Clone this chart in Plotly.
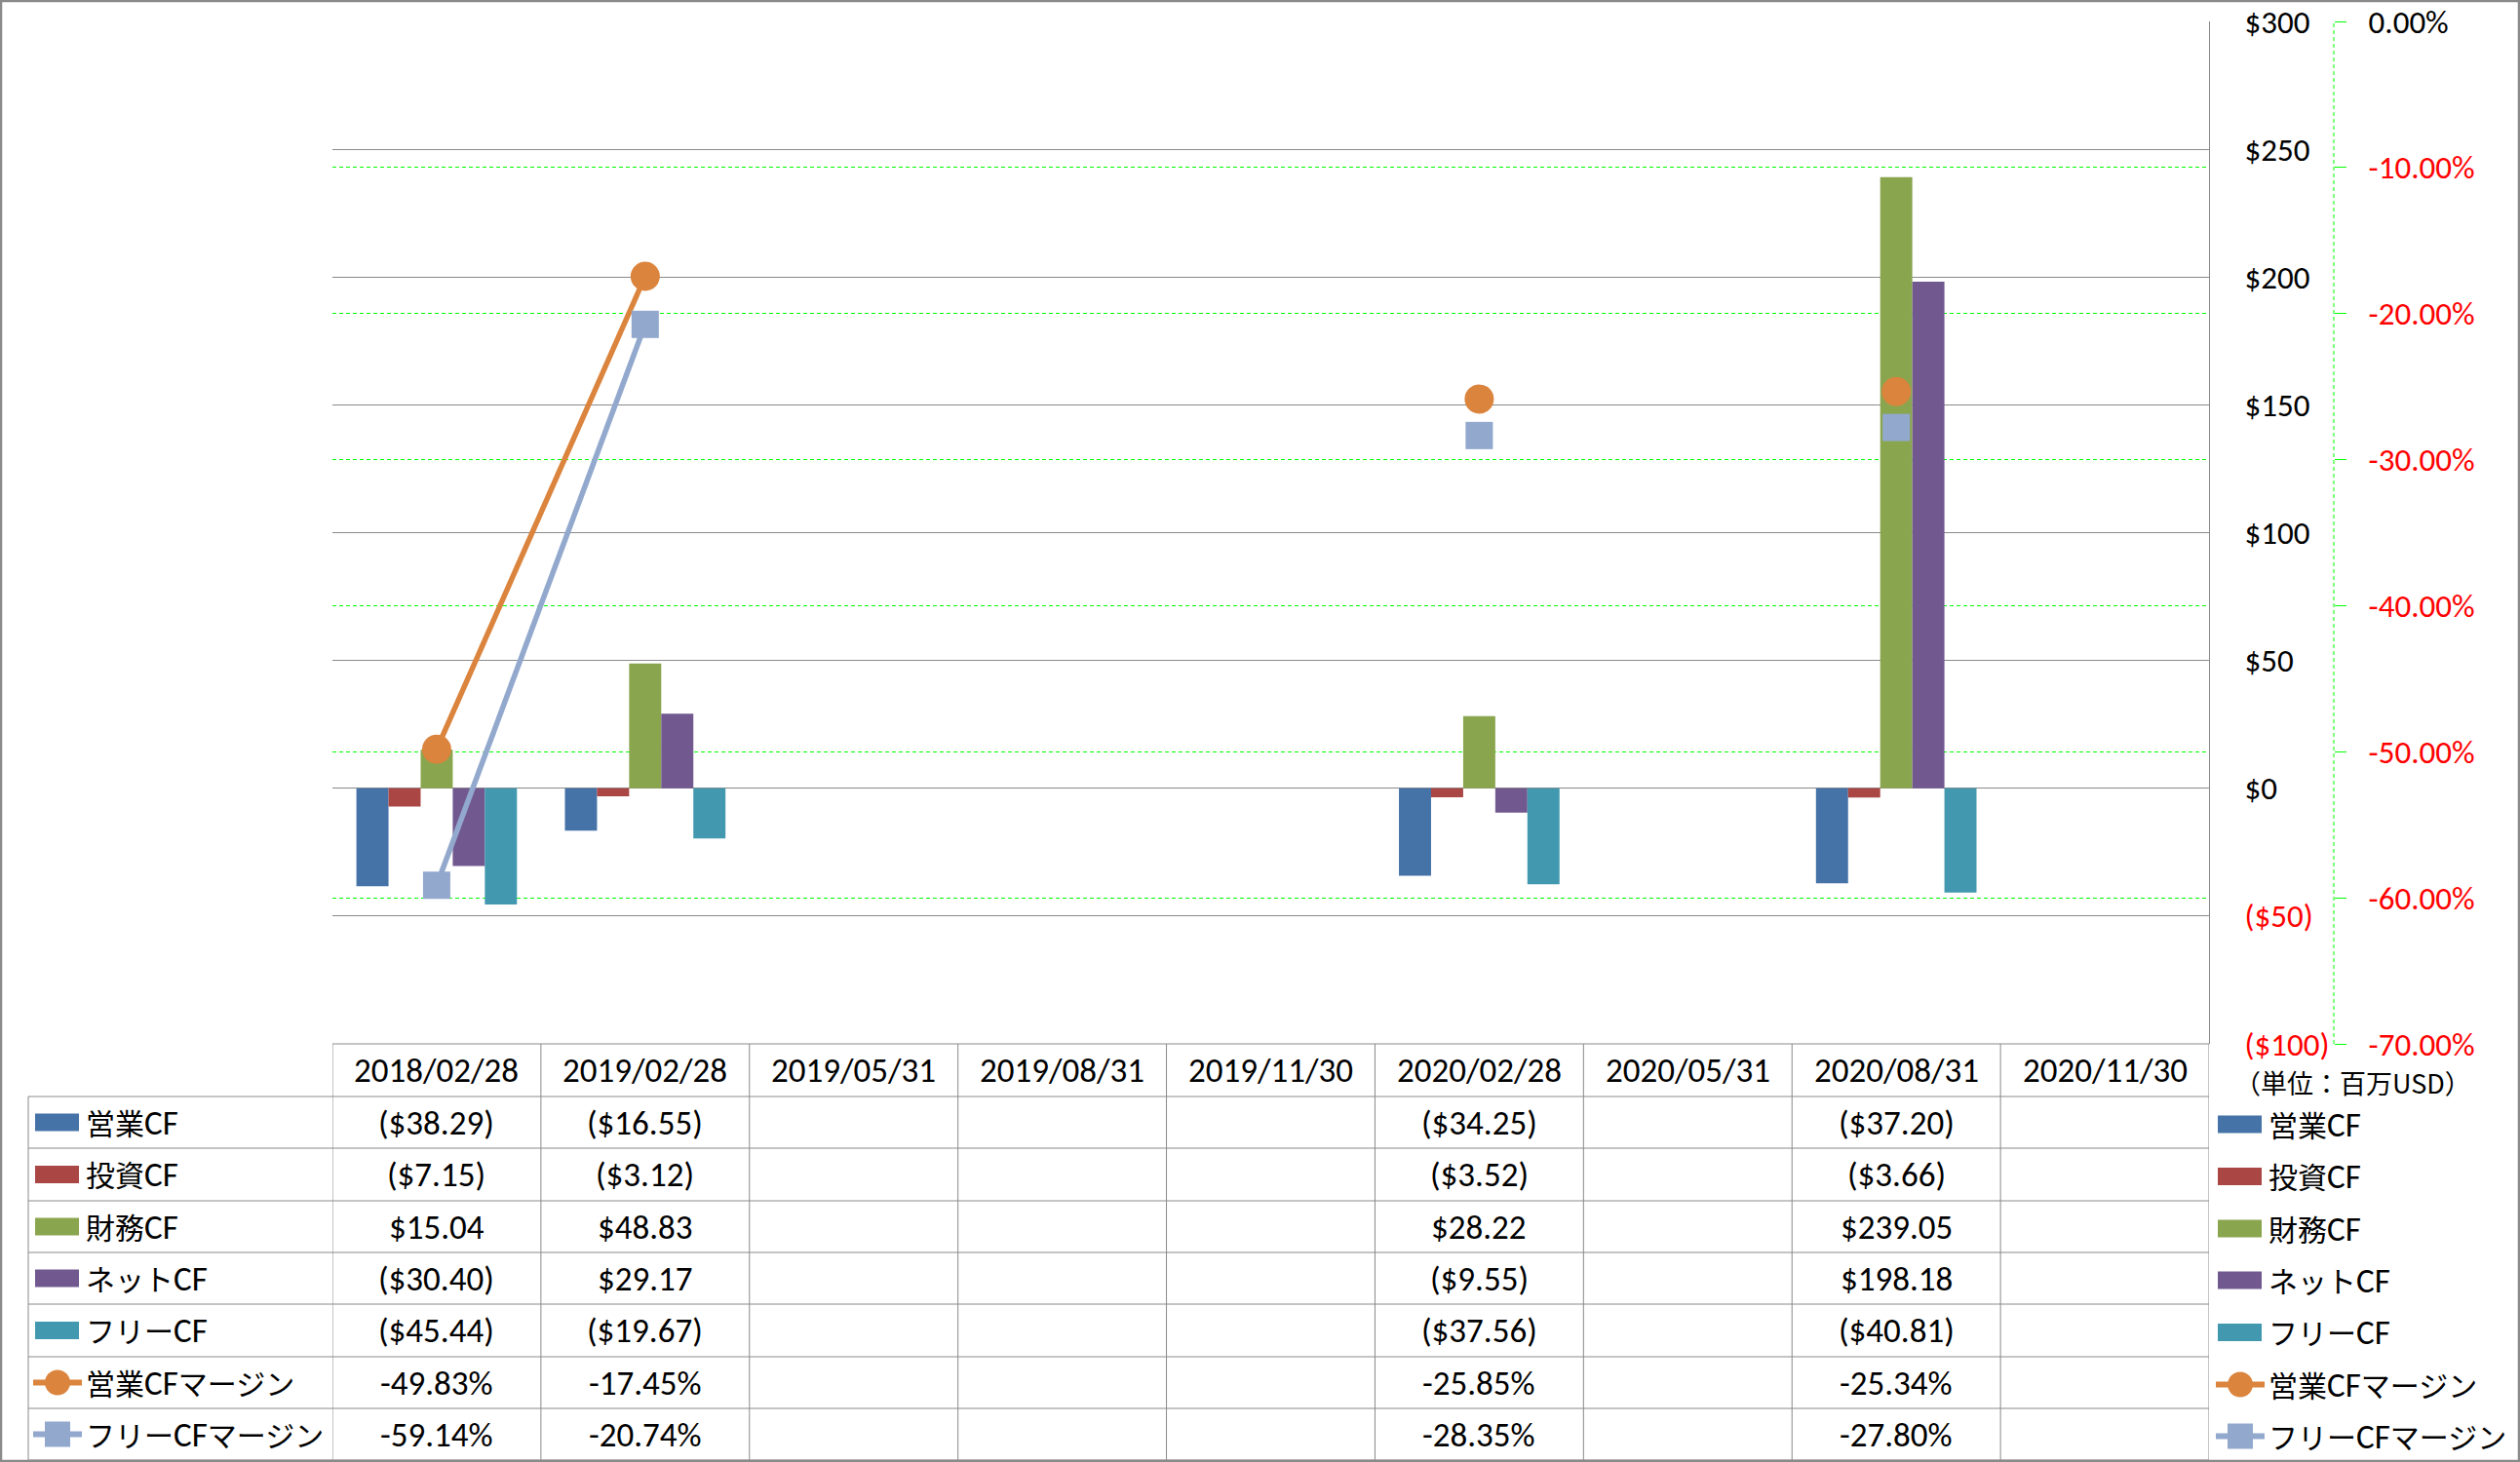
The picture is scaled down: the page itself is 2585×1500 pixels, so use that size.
import re
import plotly.graph_objects as go

W, H = 2585, 1500

# ---------------- data ----------------
categories = ["2018/02/28", "2019/02/28", "2019/05/31", "2019/08/31", "2019/11/30",
              "2020/02/28", "2020/05/31", "2020/08/31", "2020/11/30"]
operating_cf = [-38.29, -16.55, None, None, None, -34.25, None, -37.20, None]
investing_cf = [-7.15, -3.12, None, None, None, -3.52, None, -3.66, None]
financing_cf = [15.04, 48.83, None, None, None, 28.22, None, 239.05, None]
net_cf = [-30.40, 29.17, None, None, None, -9.55, None, 198.18, None]
free_cf = [-45.44, -19.67, None, None, None, -37.56, None, -40.81, None]
op_margin = [-0.4983, -0.1745, None, None, None, -0.2585, None, -0.2534, None]
free_margin = [-0.5914, -0.2074, None, None, None, -0.2835, None, -0.2780, None]

bar_names = ["営業CF", "投資CF", "財務CF", "ネットCF", "フリーCF"]
bar_series = [operating_cf, investing_cf, financing_cf, net_cf, free_cf]
line_names = ["営業CFマージン", "フリーCFマージン"]
line_series = [op_margin, free_margin]

y_tick_vals = [-100, -50, 0, 50, 100, 150, 200, 250, 300]
y2_tick_vals = [-0.7, -0.6, -0.5, -0.4, -0.3, -0.2, -0.1, 0.0]
unit_label = "（単位：百万USD）"

# ---------------- style ----------------
bar_colors = ["#4572A7", "#AA4643", "#89A54E", "#71588F", "#4198AF"]
line_colors = ["#DB843D", "#92A8CD"]
line_symbols = ["circle", "square"]
FONT = "Calibri, Carlito, 'Noto Sans CJK JP', sans-serif"
GRAY = "#8A8A8A"
GREEN = "#00FF00"
RED = "#FF0000"
FS_TABLE = 35
FS_AXIS = 33
FS_CJK = 30

PLOT_L, PLOT_R, PLOT_T, PLOT_B = 341, 2266, 22, 1071
Y2_AXIS_X = 2394
TABLE_L = 29
ROW_EDGES = [1071, 1125, 1178, 1232, 1285, 1338, 1392, 1445, 1498]


def px(x):
    return x / W


def py(y):
    return 1 - y / H


def money(v):
    if v is None:
        return ""
    return f"(${abs(v):,.2f})" if v < 0 else f"${v:,.2f}"


def pct(v):
    if v is None:
        return ""
    return f"{v * 100:.2f}%"


def money_tick(v):
    return f"<span style='color:{RED}'>(${abs(v)})</span>" if v < 0 else f"${v}"


def pct_tick(v):
    s = f"{v * 100:.2f}%"
    if v < 0:
        return f"<span style='color:{RED}'>{s}</span>"
    return "0.00%"


def label_markup(name):
    # CJK runs drawn a little smaller (the original uses a proportional Japanese face)
    return re.sub(r"([^\x00-\x7f]+)", lambda m: f"<span style='font-size:{FS_CJK}px'>{m.group(1)}</span>", name)


fig = go.Figure()

for name, vals, col in zip(bar_names, bar_series, bar_colors):
    fig.add_trace(go.Bar(x=categories, y=vals, name=name, marker=dict(color=col, line=dict(width=0)),
                         yaxis="y", showlegend=False))

for name, vals, col, sym in zip(line_names, line_series, line_colors, line_symbols):
    fig.add_trace(go.Scatter(x=categories, y=vals, name=name, mode="lines+markers", yaxis="y2",
                             connectgaps=False, line=dict(color=col, width=5.5),
                             marker=dict(symbol=sym, size=30 if sym == "circle" else 28, color=col,
                                         line=dict(width=0)),
                             showlegend=False))

shapes = []
annotations = []

shapes.append(dict(type="line", xref="paper", yref="paper", x0=px(Y2_AXIS_X), x1=px(Y2_AXIS_X),
                   y0=py(PLOT_B), y1=py(PLOT_T), line=dict(color=GREEN, width=1, dash="4px,3px")))

# ---------------- data table ----------------
n = len(categories)
shapes.append(dict(type="line", xref="x", yref="paper", x0=-0.5, x1=n - 0.5,
                   y0=py(ROW_EDGES[0]), y1=py(ROW_EDGES[0]), line=dict(color=GRAY, width=1)))
for ye in ROW_EDGES[1:]:
    shapes.append(dict(type="line", xref="paper", yref="paper", x0=px(TABLE_L), x1=px(PLOT_R),
                       y0=py(ye), y1=py(ye), line=dict(color=GRAY, width=1)))
for k in range(n + 1):
    shapes.append(dict(type="line", xref="x", yref="paper", x0=k - 0.5, x1=k - 0.5,
                       y0=py(ROW_EDGES[0]), y1=py(ROW_EDGES[-1]), line=dict(color=GRAY, width=1)))
shapes.append(dict(type="line", xref="paper", yref="paper", x0=px(TABLE_L), x1=px(TABLE_L),
                   y0=py(ROW_EDGES[1]), y1=py(ROW_EDGES[-1]), line=dict(color=GRAY, width=1)))

row_centers = [(ROW_EDGES[i] + ROW_EDGES[i + 1]) / 2 for i in range(len(ROW_EDGES) - 1)]

for c in categories:
    annotations.append(dict(x=c, y=py(row_centers[0]), xref="x", yref="paper", text=c, showarrow=False,
                            xanchor="center", yanchor="middle",
                            font=dict(size=FS_TABLE, color="black", family=FONT)))

row_texts = [[money(v) for v in s] for s in bar_series] + [[pct(v) for v in s] for s in line_series]
for r, texts in enumerate(row_texts):
    yc = row_centers[r + 1]
    for c, t in zip(categories, texts):
        if t:
            annotations.append(dict(x=c, y=py(yc), xref="x", yref="paper", text=t, showarrow=False,
                                    xanchor="center", yanchor="middle",
                                    font=dict(size=FS_TABLE, color="black", family=FONT)))


def legend_key(x_left, yc, idx):
    if idx < len(bar_names):
        col = bar_colors[idx]
        shapes.append(dict(type="rect", xref="paper", yref="paper", x0=px(x_left), x1=px(x_left + 45),
                           y0=py(yc + 9), y1=py(yc - 9), fillcolor=col, line=dict(width=0)))
    else:
        j = idx - len(bar_names)
        col = line_colors[j]
        shapes.append(dict(type="line", xref="paper", yref="paper", x0=px(x_left - 2), x1=px(x_left + 48),
                           y0=py(yc), y1=py(yc), line=dict(color=col, width=6)))
        r = 13
        xc = x_left + 23
        shapes.append(dict(type="circle" if line_symbols[j] == "circle" else "rect",
                           xref="paper", yref="paper", x0=px(xc - r), x1=px(xc + r),
                           y0=py(yc + r), y1=py(yc - r), fillcolor=col, line=dict(width=0)))


all_names = bar_names + line_names
for i, name in enumerate(all_names):
    yc = row_centers[i + 1]
    legend_key(36, yc, i)
    annotations.append(dict(x=px(86), y=py(yc), xref="paper", yref="paper", text=label_markup(name),
                            showarrow=False, xanchor="left", yanchor="middle",
                            font=dict(size=FS_TABLE, color="black", family=FONT)))
    yr = yc + 2
    legend_key(2275, yr, i)
    annotations.append(dict(x=px(2325), y=py(yr), xref="paper", yref="paper", text=label_markup(name),
                            showarrow=False, xanchor="left", yanchor="middle",
                            font=dict(size=FS_TABLE, color="black", family=FONT)))

annotations.append(dict(x=px(2290), y=py(1110), xref="paper", yref="paper", text=unit_label, showarrow=False,
                        xanchor="left", yanchor="middle",
                        font=dict(size=27, color="black", family="'Noto Sans CJK JP', sans-serif")))

shapes.append(dict(type="rect", xref="paper", yref="paper", x0=px(1), x1=px(W - 1), y0=py(H - 1), y1=py(1),
                   line=dict(color=GRAY, width=2.5), fillcolor="rgba(0,0,0,0)"))

fig.update_layout(
    width=W, height=H,
    margin=dict(l=0, r=0, t=0, b=0),
    paper_bgcolor="white", plot_bgcolor="white",
    template="none",
    barmode="group", bargap=0.23, bargroupgap=0,
    font=dict(family=FONT, size=FS_AXIS, color="black"),
    showlegend=False,
    xaxis=dict(domain=[px(PLOT_L), px(PLOT_R)], type="category", categoryorder="array",
               categoryarray=categories, range=[-0.5, len(categories) - 0.5],
               showticklabels=False, showgrid=False, zeroline=False, showline=False, ticks="",
               automargin=False),
    yaxis=dict(domain=[py(PLOT_B), py(PLOT_T)], range=[-100, 300], side="right",
               tickvals=y_tick_vals, ticktext=[money_tick(v) for v in y_tick_vals],
               showgrid=True, gridcolor=GRAY, gridwidth=1,
               zeroline=True, zerolinecolor=GRAY, zerolinewidth=1,
               showline=True, linecolor=GRAY, linewidth=1,
               ticks="", ticklabelstandoff=29, tickfont=dict(size=FS_AXIS, color="black", family=FONT),
               automargin=False),
    yaxis2=dict(overlaying="y", anchor="free", position=px(Y2_AXIS_X), side="right",
                range=[-0.7, 0], tickvals=y2_tick_vals, ticktext=[pct_tick(v) for v in y2_tick_vals],
                showgrid=True, gridcolor=GREEN, gridwidth=1, griddash="4px,3px",
                zeroline=False, showline=False,
                ticks="outside", ticklen=12, tickcolor=GREEN, tickwidth=1,
                ticklabelstandoff=16, tickfont=dict(size=FS_AXIS, color="black", family=FONT),
                automargin=False),
    shapes=shapes,
    annotations=annotations,
)

fig.write_html("out.html")
